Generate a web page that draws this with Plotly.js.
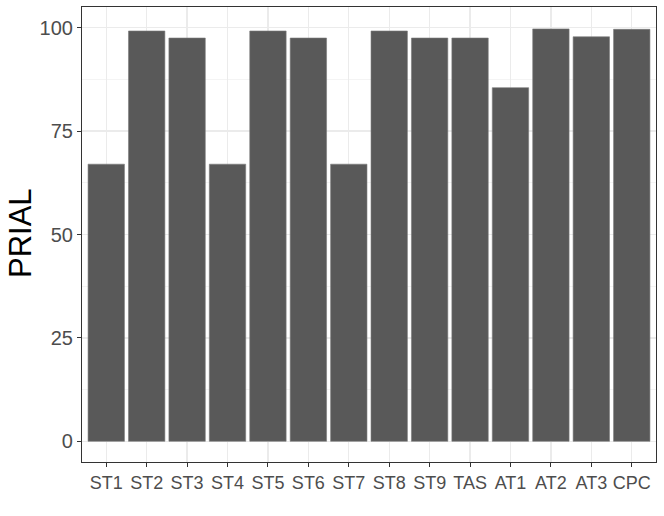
<!DOCTYPE html>
<html><head><meta charset="utf-8">
<script src="https://cdn.plot.ly/plotly-3.0.1.min.js"></script>
<style>html,body{margin:0;padding:0;background:#fff}#c{width:664px;height:516px}</style>
</head><body><div id="c"></div>
<script>
var categories = ["ST1","ST2","ST3","ST4","ST5","ST6","ST7","ST8","ST9","TAS","AT1","AT2","AT3","CPC"];
var prial = [67, 99.2, 97.5, 67, 99.2, 97.5, 67, 99.2, 97.5, 97.5, 85.5, 99.7, 97.8, 99.6];
var yTicks = [0, 25, 50, 75, 100];

Plotly.newPlot('c', [{
  type: 'bar', x: categories, y: prial,
  marker: {color: '#595959', line: {color: '#7a7a7a', width: 0.6}},
  width: 0.9, hoverinfo: 'x+y'
}], {
  width: 664, height: 516,
  margin: {l: 82, r: 8, t: 7, b: 54},
  paper_bgcolor: '#fff', plot_bgcolor: '#fff',
  showlegend: false,
  font: {family: 'Liberation Sans, Arial, sans-serif'},
  xaxis: {
    type: 'category', range: [-0.6, 13.6],
    showgrid: true, gridcolor: '#EBEBEB', gridwidth: 1.3,
    showline: true, mirror: true, linecolor: '#333333', linewidth: 1.1,
    ticks: 'outside', ticklen: 4, tickwidth: 1.1, tickcolor: '#333333',
    tickfont: {size: 18, color: '#4D4D4D'}, zeroline: false, fixedrange: true
  },
  yaxis: {
    range: [-5, 105], tickvals: yTicks, ticktext: yTicks.map(String),
    showgrid: true, gridcolor: '#EBEBEB', gridwidth: 1.3,
    minor: {tick0: 12.5, dtick: 25, showgrid: true, gridcolor: '#EFEFEF', gridwidth: 0.7, ticks: ''},
    showline: true, mirror: true, linecolor: '#333333', linewidth: 1.1,
    ticks: 'outside', ticklen: 4, tickwidth: 1.1, tickcolor: '#333333',
    tickfont: {size: 20, color: '#4D4D4D'}, zeroline: false, fixedrange: true
  },
  annotations: [{
    text: 'PRIAL', textangle: -90, xref: 'paper', yref: 'paper',
    x: (20 - 82) / 574, y: (462 - 233) / 455, xanchor: 'center', yanchor: 'middle',
    showarrow: false, font: {size: 31, color: '#000'}
  }]
}, {displayModeBar: false, staticPlot: true});
</script></body></html>
